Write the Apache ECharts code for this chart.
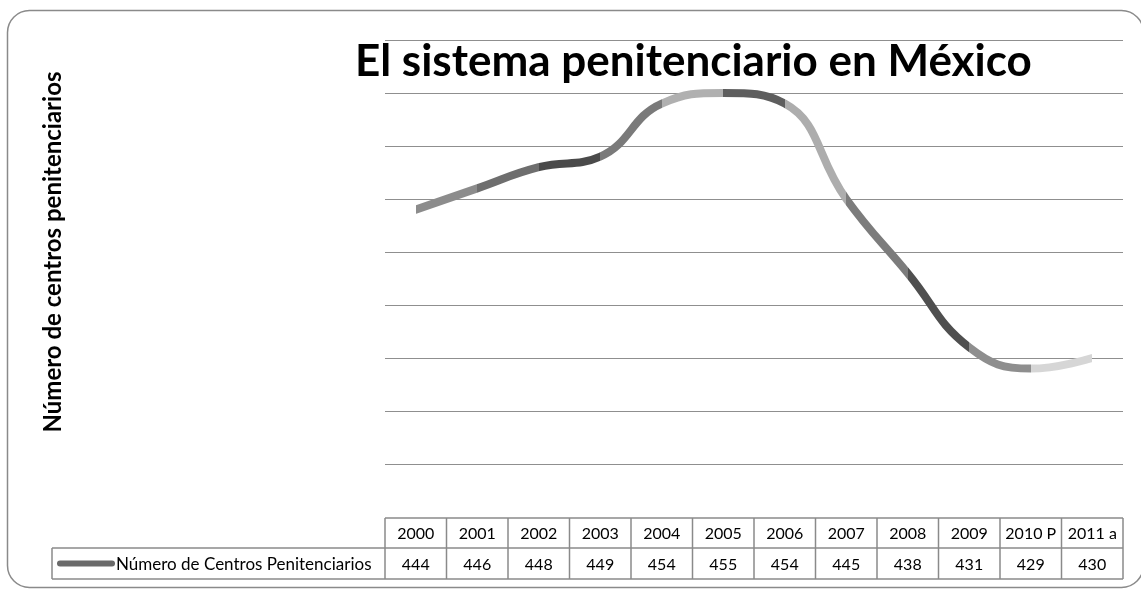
<!DOCTYPE html>
<html style="height: 100%">
   <head>
       <meta charset="utf-8">
       <title>El sistema penitenciario en México</title>
       <script src="https://cdn.jsdelivr.net/npm/echarts@6/dist/echarts.min.js"></script>
   </head>
   <body style="height: 100%; margin: 0; background: #fff">
       <div id="container" style="width: 1141px; height: 589px"></div>
       <script type="text/javascript">

// data
const years = ['2000', '2001', '2002', '2003', '2004', '2005', '2006', '2007', '2008', '2009', '2010 P', '2011 a'];
const centros = [444, 446, 448, 449, 454, 455, 454, 445, 438, 431, 429, 430];
const seriesName = 'Número de Centros Penitenciarios';
// one grey per segment (Excel "vary colours by point")
const segmentColors = ['#8c8c8c', '#6e6e6e', '#4a4a4a', '#7a7a7a', '#b0b0b0', '#5e5e5e',
                       '#adadad', '#7c7c7c', '#4f4f4f', '#8e8e8e', '#d6d6d6'];

const FONT = 'Lato, "Open Sans", sans-serif';
const gridColor = '#8f8f8f';
const tableColor = '#8a8a8a';

let dom = document.getElementById('container');
let chart = echarts.init(dom);

// pieces by category index -> coloured segments
let pieces = segmentColors.map(function (c, i) {
    return {gte: i, lt: i + 1, color: c};
});
pieces[pieces.length - 1].lte = segmentColors.length;
delete pieces[pieces.length - 1].lt;

chart.setOption({
    animation: false,
    title: {
        text: 'El sistema penitenciario en México',
        left: 355,
        top: 40,
        padding: 0,
        textStyle: {fontFamily: FONT, fontSize: 44, fontWeight: 'bold', color: '#000'}
    },
    grid: {left: 385, right: 18, top: 40, bottom: 125},
    xAxis: {
        type: 'category',
        data: years,
        boundaryGap: true,
        axisLine: {show: false},
        axisTick: {show: false},
        axisLabel: {show: false}
    },
    yAxis: {
        type: 'value',
        min: 420,
        max: 460,
        interval: 5,
        axisLabel: {show: false},
        axisLine: {show: false},
        axisTick: {show: false},
        splitLine: {lineStyle: {color: gridColor, width: 1.2}},
        name: 'Número de centros penitenciarios',
        nameLocation: 'middle',
        nameGap: 320,
        nameTextStyle: {fontFamily: FONT, fontSize: 24, fontWeight: 'bold', color: '#000'}
    },
    visualMap: {
        show: false,
        type: 'piecewise',
        dimension: 0,
        seriesIndex: 0,
        pieces: pieces
    },
    series: [{
        name: seriesName,
        type: 'line',
        data: centros,
        smooth: 0.45,
        symbol: 'none',
        lineStyle: {width: 8, cap: 'round', join: 'round'}
    }]
});

// data table under the plot, placed on the category scale
function drawTable() {
    const x0 = chart.convertToPixel({xAxisIndex: 0}, 0);
    const x1 = chart.convertToPixel({xAxisIndex: 0}, 1);
    const band = x1 - x0;
    const left = x0 - band / 2;
    const right = left + band * years.length;
    const top = 518, mid = 548, bottom = 579, legendLeft = 52;
    let els = [];
    const line = function (ax, ay, bx, by) {
        els.push({type: 'line', shape: {x1: ax, y1: ay, x2: bx, y2: by},
                  style: {stroke: tableColor, lineWidth: 1.5}, silent: true});
    };
    const txt = function (x, y, s, size, align) {
        els.push({type: 'text', x: x, y: y, silent: true,
                  style: {text: s, fontFamily: FONT, fontSize: size, fill: '#000',
                          align: align || 'center', verticalAlign: 'middle'}});
    };
    line(left, top, right, top);
    line(legendLeft, mid, right, mid);
    line(legendLeft, bottom, right, bottom);
    line(legendLeft, mid, legendLeft, bottom);
    for (let i = 0; i <= years.length; i++) {
        line(left + band * i, top, left + band * i, bottom);
    }
    years.forEach(function (y, i) {
        const cx = chart.convertToPixel({xAxisIndex: 0}, i);
        txt(cx, (top + mid) / 2 + 1, y, 16);
        txt(cx, (mid + bottom) / 2 + 1, String(centros[i]), 16);
    });
    // legend key
    els.push({type: 'line', shape: {x1: 60, y1: (mid + bottom) / 2, x2: 112, y2: (mid + bottom) / 2},
              style: {stroke: '#6a6a6a', lineWidth: 6, lineCap: 'round'}, silent: true});
    txt(116, (mid + bottom) / 2 + 1, seriesName, 17, 'left');
    // chart area frame
    els.push({type: 'rect', shape: {x: 7.5, y: 10.5, width: 1136, height: 577, r: 22},
              style: {fill: 'none', stroke: '#8a8a8a', lineWidth: 1.5}, silent: true, z: -1});
    chart.setOption({graphic: els});
}
drawTable();

       </script>
   </body>
</html>
